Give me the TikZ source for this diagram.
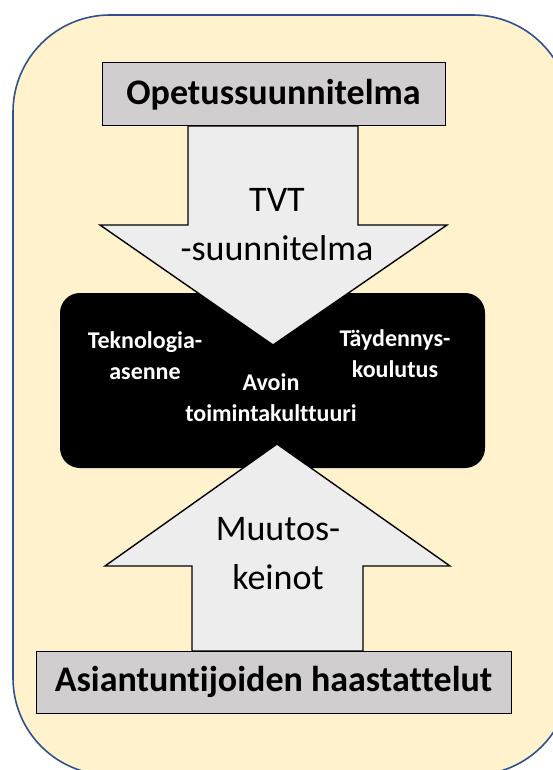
\documentclass[tikz,border=0pt]{standalone}
\usepackage{fontspec}
\setmainfont{Carlito}[Ligatures={NoCommon}]
\usetikzlibrary{positioning}
\definecolor{paper}{HTML}{FFF2CC}
\definecolor{frameblue}{HTML}{2F528F}
\definecolor{boxgray}{HTML}{D0CECE}
\definecolor{arrowgray}{HTML}{EDEDED}
\newcommand{\bigtext}{\fontsize{36}{49}\selectfont}
\newcommand{\smalltext}{\fontsize{24}{31}\selectfont}
\newcommand{\framecorner}{97pt}
\newcommand{\boxcorner}{20pt}

\begin{document}
\begin{tikzpicture}[x=1pt,y=-1pt,
  graybox/.style={draw=black,line width=1pt,fill=boxgray,inner sep=0pt,font=\bigtext\bfseries},
  darkbox/.style={fill=black,rounded corners=\boxcorner,inner sep=0pt},
  bigarrow/.style={draw=black,line width=1.4pt,fill=arrowgray,line join=miter},
  arrowlabel/.style={align=center,inner sep=0pt,font=\bigtext},
  darklabel/.style={align=center,inner sep=0pt,text=white,font=\smalltext\bfseries}]

\useasboundingbox (0,0) rectangle (553,770);
\clip (0,0) rectangle (553,770);

% Background frame
\draw[frameblue,line width=1.6pt,fill=paper,rounded corners=\framecorner] (13,15) rectangle (570,775);

% Middle box
\node (Culture) [darkbox,minimum width=425pt,minimum height=175pt] at (272.5,380.5) {};

% Arrows
\draw[bigarrow] (188,126) -- (188,225) -- (100,225) -- (273,345) -- (447,225) -- (358,225) -- (358,126) -- cycle;
\draw[bigarrow] (192,651) -- (192,566) -- (105,566) -- (277,444) -- (450,566) -- (363,566) -- (363,651) -- cycle;

% Top and bottom boxes
\node (Plan) [graybox,minimum width=343pt,minimum height=63pt] at (273.5,94.5) {Opetussuunnitelma};
\node (Interviews) [graybox,minimum width=475pt,minimum height=62pt] at (273.5,682) {Asiantuntijoiden haastattelut};

% Arrow labels
\node (ICT) [arrowlabel] at (277,225) {TVT\\-suunnitelma};
\node (Means) [arrowlabel] at (278,554) {Muutos-\\keinot};

% Label the middle box
\node (Attitude) [darklabel] at (145,356) {Teknologia-\\asenne};
\node (Training) [darklabel] at (395,354) {Täydennys-\\koulutus};
\node (Open) [darklabel] at (271,398) {Avoin\\toimintakulttuuri};

\end{tikzpicture}
\end{document}
